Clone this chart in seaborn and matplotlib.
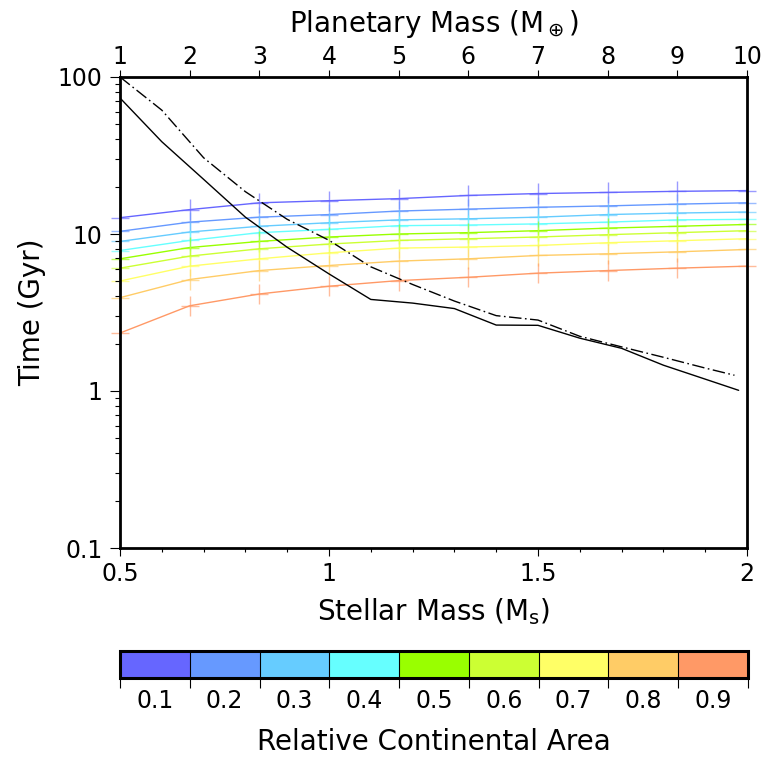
import numpy as np
import pandas as pd
import matplotlib
matplotlib.use("Agg")
import matplotlib.pyplot as plt
import seaborn as sns
from matplotlib.colors import ListedColormap, BoundaryNorm
from matplotlib.cm import ScalarMappable
from matplotlib.ticker import FixedLocator, FixedFormatter, NullLocator, LogLocator, NullFormatter

# ---------------- data ----------------
planet_mass = [1, 2, 3, 4, 5, 6, 7, 8, 9, 10]
areas = [0.1, 0.2, 0.3, 0.4, 0.5, 0.6, 0.7, 0.8, 0.9]
area_colors = ["#6666ff", "#6699ff", "#66ccff", "#66ffff", "#99ff00",
               "#ccff33", "#ffff66", "#ffcc66", "#ff9966"]
time_a01 = [12.7, 14.3, 15.8, 16.3, 16.8, 17.6, 18.1, 18.4, 18.7, 18.9]
time_a02 = [10.4, 11.9, 12.8, 13.3, 14.0, 14.4, 14.8, 15.1, 15.5, 15.8]
time_a03 = [8.97, 10.3, 11.2, 11.8, 12.3, 12.5, 12.8, 13.3, 13.6, 13.8]
time_a04 = [7.85, 9.1, 10.2, 10.7, 11.3, 11.4, 11.6, 11.9, 12.3, 12.4]
time_a05 = [6.95, 8.2, 8.97, 9.57, 10.0, 10.2, 10.5, 10.9, 11.2, 11.5]
time_a06 = [6.06, 7.23, 8.05, 8.63, 9.1, 9.33, 9.57, 9.9, 10.2, 10.5]
time_a07 = [5.02, 6.24, 6.95, 7.59, 8.13, 8.26, 8.45, 8.8, 9.06, 9.33]
time_a08 = [3.93, 5.13, 5.85, 6.3, 6.72, 6.95, 7.3, 7.48, 7.7, 7.97]
time_a09 = [2.34, 3.49, 4.15, 4.65, 5.05, 5.3, 5.63, 5.85, 6.06, 6.24]
area_times = [time_a01, time_a02, time_a03, time_a04, time_a05,
              time_a06, time_a07, time_a08, time_a09]
time_err_factor = 1.16      # multiplicative vertical uncertainty
pmass_err = 0.13            # horizontal uncertainty (planetary mass)

stellar_mass_solid = [0.5, 0.6, 0.7, 0.8, 0.9, 1.0, 1.1, 1.2, 1.3, 1.4, 1.5,
                      1.6, 1.7, 1.8, 1.9, 1.98]
time_solid = [73.5, 38.7, 22.3, 12.8, 8.23, 5.57, 3.83, 3.63, 3.35, 2.63, 2.62,
              2.17, 1.87, 1.46, 1.19, 1.01]
stellar_mass_dashdot = [0.5, 0.6, 0.7, 0.8, 0.9, 1.0, 1.1, 1.2, 1.3, 1.4, 1.5,
                        1.6, 1.7, 1.8, 1.9, 1.97]
time_dashdot = [100, 61.5, 30.6, 18.6, 12.4, 9.12, 6.18, 4.77, 3.74, 3.02, 2.83,
                2.23, 1.91, 1.64, 1.40, 1.26]

y_ticks = [0.1, 1, 10, 100]
y_ticklabels = ["0.1", "1", "10", "100"]
x_ticks = [0.5, 1, 1.5, 2]
x_ticklabels = ["0.5", "1", "1.5", "2"]
top_ticks = planet_mass
top_ticklabels = [str(m) for m in planet_mass]

# ---------------- style ----------------
sns.set_style("white")
plt.rcParams["font.family"] = ["DejaVu Sans"]
plt.rcParams["mathtext.fontset"] = "dejavusans"
plt.rcParams["text.color"] = "black"
plt.rcParams["axes.labelcolor"] = "black"
plt.rcParams["axes.edgecolor"] = "black"
plt.rcParams["xtick.color"] = "black"
plt.rcParams["ytick.color"] = "black"

W, H = 763, 761
fig = plt.figure(figsize=(W / 100, H / 100), dpi=100)
fig.patch.set_facecolor("white")

L, R, T, B = 120, 747, 77, 548
ax2 = fig.add_axes([L / W, 1 - B / H, (R - L) / W, (B - T) / H])
ax = fig.add_axes([L / W, 1 - B / H, (R - L) / W, (B - T) / H], sharey=ax2)
ax.patch.set_visible(False)
ax2.patch.set_visible(False)

# colored series vs planetary mass (drawn on the top-axis scale)
rows = []
for a, ts in zip(areas, area_times):
    for m, t in zip(planet_mass, ts):
        rows.append({"pmass": m, "time": t, "area": f"{a:.1f}"})
df = pd.DataFrame(rows)
pal = {f"{a:.1f}": c for a, c in zip(areas, area_colors)}
sns.lineplot(data=df, x="pmass", y="time", hue="area", palette=pal,
             hue_order=list(pal.keys()), ax=ax2, linewidth=1.0, legend=False,
             estimator=None, sort=False)
for a, c, ts in zip(areas, area_colors, area_times):
    ts = np.asarray(ts)
    ax2.errorbar(planet_mass, ts, yerr=[ts - ts / time_err_factor, ts * time_err_factor - ts],
                 xerr=pmass_err, fmt="none", ecolor=c, elinewidth=1.0, alpha=0.65,
                 capsize=0, clip_on=False)

# black curves vs stellar mass
sns.lineplot(x=stellar_mass_solid, y=time_solid, ax=ax, color="black",
             linewidth=1.0, estimator=None, sort=False)
sns.lineplot(x=stellar_mass_dashdot, y=time_dashdot, ax=ax, color="black",
             linewidth=1.0, estimator=None, sort=False)
ax.lines[-1].set_dashes([9, 2.5, 1.2, 2.5])

ax.set_yscale("log")
ax.set_ylim(0.1, 100)
ax.set_xlim(0.5, 2.0)
ax2.set_xlim(1, 10)

# axes ticks
ax.yaxis.set_major_locator(FixedLocator(y_ticks))
ax.yaxis.set_major_formatter(FixedFormatter(y_ticklabels))
ax.yaxis.set_minor_locator(LogLocator(base=10, subs=np.arange(2, 10)))
ax.yaxis.set_minor_formatter(NullFormatter())
ax.xaxis.set_major_locator(FixedLocator(x_ticks))
ax.xaxis.set_major_formatter(FixedFormatter(x_ticklabels))
ax.xaxis.set_minor_locator(FixedLocator(np.arange(0.6, 2.0, 0.1)))

ax2.xaxis.set_ticks_position("top")
ax2.xaxis.set_label_position("top")
ax2.xaxis.set_major_locator(FixedLocator(top_ticks))
ax2.xaxis.set_major_formatter(FixedFormatter(top_ticklabels))
ax2.xaxis.set_minor_locator(NullLocator())
ax2.tick_params(axis="y", which="both", left=False, right=False, labelleft=False)
for s in ax2.spines.values():
    s.set_visible(False)

tick_fs = 17
ax.tick_params(axis="y", which="major", direction="out", length=7.2, width=0.8,
               labelsize=tick_fs, pad=5.5, left=True, right=False)
ax.tick_params(axis="y", which="minor", direction="out", length=3.6, width=0.8,
               left=True, right=False)
ax.tick_params(axis="x", which="major", direction="out", length=5.8, width=0.8,
               labelsize=tick_fs, pad=4.5, bottom=True, top=False)
ax.tick_params(axis="x", which="minor", direction="out", length=2.9, width=0.8,
               bottom=True, top=False)
ax2.tick_params(axis="x", which="major", direction="out", length=5.4, width=0.8,
                labelsize=tick_fs, pad=0.5, top=True, bottom=False)

for s in ax.spines.values():
    s.set_visible(True)
    s.set_linewidth(2.0)
    s.set_color("black")

lab_fs = 20
ax.set_xlabel(r"Stellar Mass (M$_\mathregular{s}$)", fontsize=lab_fs)
ax.xaxis.set_label_coords(0.5, -0.102)
ax.set_ylabel("Time (Gyr)", fontsize=lab_fs)
ax.yaxis.set_label_coords(-0.118, 0.5)
ax2.set_xlabel(r"Planetary Mass (M$_\oplus$)", fontsize=lab_fs)
ax2.xaxis.set_label_coords(0.5, 1.096)
ax2.set_ylabel("")

# colorbar
cax = fig.add_axes([120 / W, 1 - 678 / H, 628 / W, 27 / H])
bounds = np.array([0.05, 0.15, 0.25, 0.35, 0.45, 0.55, 0.65, 0.75, 0.85, 0.95])
cmap = ListedColormap(area_colors)
norm = BoundaryNorm(bounds, cmap.N)
sm = ScalarMappable(norm=norm, cmap=cmap)
cb = fig.colorbar(sm, cax=cax, orientation="horizontal", drawedges=True,
                  boundaries=bounds, spacing="proportional")
cb.outline.set_linewidth(2.2)
cb.outline.set_edgecolor("black")
cb.dividers.set_linewidth(0.8)
cb.dividers.set_color("black")
cb.set_ticks(areas)
cb.set_ticklabels([f"{a:.1f}" for a in areas])
cb.ax.xaxis.set_minor_locator(FixedLocator(bounds))
cb.ax.tick_params(axis="x", which="major", length=0, labelsize=tick_fs, pad=8)
cb.ax.tick_params(axis="x", which="minor", length=7.5, width=0.8, direction="out",
                  color="black")
cb.set_label("Relative Continental Area", fontsize=lab_fs, labelpad=11)

fig.savefig("out.png", dpi=100, facecolor="white")
